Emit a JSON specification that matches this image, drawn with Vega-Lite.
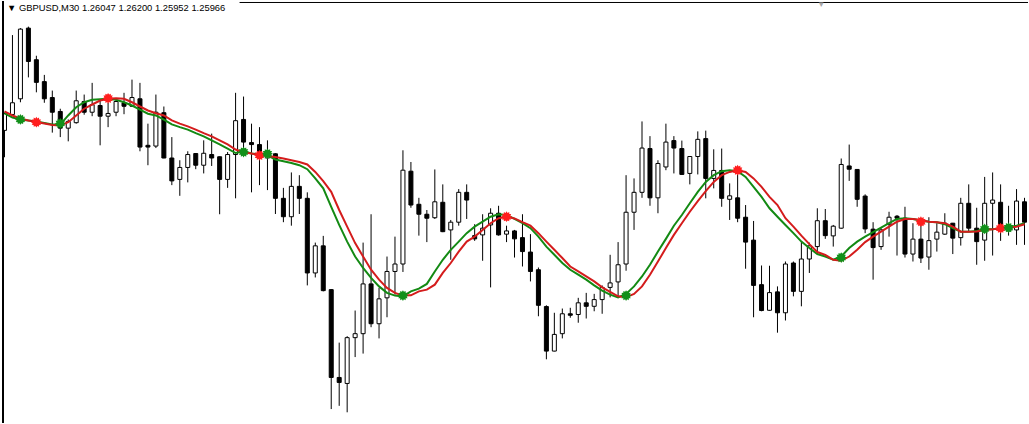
{
"$schema": "https://vega.github.io/schema/vega-lite/v6.json",
"width": 1029, "height": 424,
"autosize": {"type": "fit", "contains": "padding"},
"padding": 0,
"background": "#ffffff",
"config": {"view": {"stroke": null}, "scale": {"continuousPadding": 0}},
"title": {"text": "▼  GBPUSD,M30  1.26047 1.26200 1.25952 1.25966", "anchor": "start", "frame": "group", "orient": "top", "offset": -13, "font": "Liberation Sans", "fontSize": 9.4, "fontWeight": "normal", "color": "#000000", "dx": 4},
"datasets": {
"c": [
{"i":0,"o":1.26330,"h":1.26402,"l":1.26222,"c":1.26398,"g":1.26398,"r":1.26406},
{"i":1,"o":1.26394,"h":1.26713,"l":1.26392,"c":1.26441,"g":1.26382,"r":1.26390},
{"i":2,"o":1.26457,"h":1.26741,"l":1.26443,"c":1.26737,"g":1.26374,"r":1.26378},
{"i":3,"o":1.26741,"h":1.26747,"l":1.26543,"c":1.26607,"g":1.26370,"r":1.26370},
{"i":4,"o":1.26614,"h":1.26630,"l":1.26483,"c":1.26523,"g":1.26366,"r":1.26364},
{"i":5,"o":1.26526,"h":1.26553,"l":1.26441,"c":1.26457,"g":1.26360,"r":1.26358},
{"i":6,"o":1.26462,"h":1.26490,"l":1.26321,"c":1.26403,"g":1.26354,"r":1.26352},
{"i":7,"o":1.26406,"h":1.26417,"l":1.26303,"c":1.26339,"g":1.26354,"r":1.26350},
{"i":8,"o":1.26339,"h":1.26374,"l":1.26286,"c":1.26366,"g":1.26390,"r":1.26363},
{"i":9,"o":1.26361,"h":1.26490,"l":1.26357,"c":1.26449,"g":1.26423,"r":1.26390},
{"i":10,"o":1.26446,"h":1.26474,"l":1.26393,"c":1.26403,"g":1.26443,"r":1.26417},
{"i":11,"o":1.26403,"h":1.26521,"l":1.26387,"c":1.26433,"g":1.26453,"r":1.26434},
{"i":12,"o":1.26430,"h":1.26450,"l":1.26270,"c":1.26387,"g":1.26455,"r":1.26450},
{"i":13,"o":1.26387,"h":1.26441,"l":1.26343,"c":1.26398,"g":1.26457,"r":1.26457},
{"i":14,"o":1.26403,"h":1.26457,"l":1.26387,"c":1.26446,"g":1.26453,"r":1.26459},
{"i":15,"o":1.26441,"h":1.26481,"l":1.26395,"c":1.26427,"g":1.26443,"r":1.26457},
{"i":16,"o":1.26427,"h":1.26534,"l":1.26424,"c":1.26462,"g":1.26430,"r":1.26443},
{"i":17,"o":1.26457,"h":1.26521,"l":1.26246,"c":1.26263,"g":1.26413,"r":1.26426},
{"i":18,"o":1.26270,"h":1.26357,"l":1.26190,"c":1.26263,"g":1.26397,"r":1.26410},
{"i":19,"o":1.26267,"h":1.26474,"l":1.26259,"c":1.26403,"g":1.26390,"r":1.26399},
{"i":20,"o":1.26401,"h":1.26426,"l":1.26218,"c":1.26219,"g":1.26373,"r":1.26390},
{"i":21,"o":1.26219,"h":1.26303,"l":1.26110,"c":1.26127,"g":1.26354,"r":1.26370},
{"i":22,"o":1.26133,"h":1.26210,"l":1.26067,"c":1.26181,"g":1.26343,"r":1.26357},
{"i":23,"o":1.26181,"h":1.26246,"l":1.26121,"c":1.26233,"g":1.26333,"r":1.26346},
{"i":24,"o":1.26237,"h":1.26238,"l":1.26174,"c":1.26190,"g":1.26319,"r":1.26333},
{"i":25,"o":1.26190,"h":1.26290,"l":1.26157,"c":1.26238,"g":1.26306,"r":1.26319},
{"i":26,"o":1.26233,"h":1.26317,"l":1.26187,"c":1.26219,"g":1.26290,"r":1.26306},
{"i":27,"o":1.26224,"h":1.26225,"l":1.25993,"c":1.26133,"g":1.26274,"r":1.26290},
{"i":28,"o":1.26133,"h":1.26243,"l":1.26099,"c":1.26233,"g":1.26257,"r":1.26274},
{"i":29,"o":1.26233,"h":1.26481,"l":1.26057,"c":1.26369,"g":1.26239,"r":1.26253},
{"i":30,"o":1.26374,"h":1.26466,"l":1.26230,"c":1.26283,"g":1.26246,"r":1.26242},
{"i":31,"o":1.26281,"h":1.26357,"l":1.26081,"c":1.26273,"g":1.26237,"r":1.26237},
{"i":32,"o":1.26273,"h":1.26343,"l":1.26110,"c":1.26223,"g":1.26234,"r":1.26230},
{"i":33,"o":1.26219,"h":1.26290,"l":1.26090,"c":1.26237,"g":1.26230,"r":1.26227},
{"i":34,"o":1.26236,"h":1.26238,"l":1.25994,"c":1.26057,"g":1.26213,"r":1.26223},
{"i":35,"o":1.26057,"h":1.26099,"l":1.25961,"c":1.25983,"g":1.26206,"r":1.26217},
{"i":36,"o":1.25983,"h":1.26161,"l":1.25947,"c":1.26105,"g":1.26199,"r":1.26210},
{"i":37,"o":1.26105,"h":1.26150,"l":1.25994,"c":1.26057,"g":1.26190,"r":1.26203},
{"i":38,"o":1.26057,"h":1.26081,"l":1.25707,"c":1.25757,"g":1.26174,"r":1.26193},
{"i":39,"o":1.25757,"h":1.25879,"l":1.25739,"c":1.25866,"g":1.26137,"r":1.26163},
{"i":40,"o":1.25866,"h":1.25906,"l":1.25683,"c":1.25686,"g":1.26097,"r":1.26126},
{"i":41,"o":1.25690,"h":1.25692,"l":1.25210,"c":1.25337,"g":1.26023,"r":1.26083},
{"i":42,"o":1.25337,"h":1.25477,"l":1.25223,"c":1.25317,"g":1.25950,"r":1.26010},
{"i":43,"o":1.25313,"h":1.25503,"l":1.25197,"c":1.25497,"g":1.25883,"r":1.25943},
{"i":44,"o":1.25497,"h":1.25606,"l":1.25419,"c":1.25513,"g":1.25823,"r":1.25877},
{"i":45,"o":1.25513,"h":1.25879,"l":1.25433,"c":1.25713,"g":1.25777,"r":1.25823},
{"i":46,"o":1.25713,"h":1.25993,"l":1.25539,"c":1.25553,"g":1.25737,"r":1.25770},
{"i":47,"o":1.25553,"h":1.25697,"l":1.25494,"c":1.25653,"g":1.25703,"r":1.25730},
{"i":48,"o":1.25657,"h":1.25823,"l":1.25579,"c":1.25763,"g":1.25677,"r":1.25697},
{"i":49,"o":1.25763,"h":1.25903,"l":1.25670,"c":1.25793,"g":1.25666,"r":1.25677},
{"i":50,"o":1.25793,"h":1.26250,"l":1.25761,"c":1.26170,"g":1.25663,"r":1.25666},
{"i":51,"o":1.26166,"h":1.26203,"l":1.26019,"c":1.26030,"g":1.25683,"r":1.25667},
{"i":52,"o":1.26033,"h":1.26059,"l":1.25907,"c":1.25993,"g":1.25694,"r":1.25683},
{"i":53,"o":1.25993,"h":1.26010,"l":1.25881,"c":1.25977,"g":1.25713,"r":1.25690},
{"i":54,"o":1.25979,"h":1.26173,"l":1.25974,"c":1.26043,"g":1.25763,"r":1.25710},
{"i":55,"o":1.26041,"h":1.26113,"l":1.25921,"c":1.25923,"g":1.25810,"r":1.25757},
{"i":56,"o":1.25930,"h":1.25970,"l":1.25810,"c":1.25961,"g":1.25850,"r":1.25797},
{"i":57,"o":1.25961,"h":1.26094,"l":1.25947,"c":1.26081,"g":1.25883,"r":1.25843},
{"i":58,"o":1.26081,"h":1.26113,"l":1.25974,"c":1.26050,"g":1.25917,"r":1.25883},
{"i":59,"o":1.25907,"h":1.25953,"l":1.25886,"c":1.25894,"g":1.25943,"r":1.25903},
{"i":60,"o":1.25910,"h":1.25993,"l":1.25806,"c":1.25937,"g":1.25963,"r":1.25930},
{"i":61,"o":1.25950,"h":1.26017,"l":1.25699,"c":1.25997,"g":1.25983,"r":1.25957},
{"i":62,"o":1.25997,"h":1.26027,"l":1.25907,"c":1.25910,"g":1.25993,"r":1.25977},
{"i":63,"o":1.25913,"h":1.25947,"l":1.25881,"c":1.25926,"g":1.25990,"r":1.25983},
{"i":64,"o":1.25926,"h":1.25930,"l":1.25819,"c":1.25894,"g":1.25974,"r":1.25976},
{"i":65,"o":1.25899,"h":1.25993,"l":1.25783,"c":1.25843,"g":1.25957,"r":1.25961},
{"i":66,"o":1.25841,"h":1.25913,"l":1.25723,"c":1.25763,"g":1.25937,"r":1.25947},
{"i":67,"o":1.25770,"h":1.25779,"l":1.25583,"c":1.25627,"g":1.25903,"r":1.25917},
{"i":68,"o":1.25622,"h":1.25627,"l":1.25410,"c":1.25443,"g":1.25863,"r":1.25883},
{"i":69,"o":1.25443,"h":1.25597,"l":1.25442,"c":1.25510,"g":1.25830,"r":1.25850},
{"i":70,"o":1.25513,"h":1.25614,"l":1.25494,"c":1.25593,"g":1.25797,"r":1.25817},
{"i":71,"o":1.25593,"h":1.25617,"l":1.25577,"c":1.25587,"g":1.25770,"r":1.25783},
{"i":72,"o":1.25590,"h":1.25657,"l":1.25557,"c":1.25637,"g":1.25750,"r":1.25763},
{"i":73,"o":1.25637,"h":1.25677,"l":1.25574,"c":1.25623,"g":1.25730,"r":1.25743},
{"i":74,"o":1.25623,"h":1.25673,"l":1.25603,"c":1.25650,"g":1.25707,"r":1.25723},
{"i":75,"o":1.25650,"h":1.25707,"l":1.25593,"c":1.25699,"g":1.25686,"r":1.25699},
{"i":76,"o":1.25699,"h":1.25830,"l":1.25659,"c":1.25717,"g":1.25670,"r":1.25681},
{"i":77,"o":1.25721,"h":1.25881,"l":1.25659,"c":1.25790,"g":1.25659,"r":1.25663},
{"i":78,"o":1.25793,"h":1.26150,"l":1.25766,"c":1.26001,"g":1.25673,"r":1.25659},
{"i":79,"o":1.26001,"h":1.26137,"l":1.25930,"c":1.26081,"g":1.25703,"r":1.25673},
{"i":80,"o":1.26081,"h":1.26366,"l":1.26059,"c":1.26259,"g":1.25743,"r":1.25703},
{"i":81,"o":1.26257,"h":1.26307,"l":1.26027,"c":1.26059,"g":1.25790,"r":1.25750},
{"i":82,"o":1.26059,"h":1.26210,"l":1.25997,"c":1.26197,"g":1.25843,"r":1.25803},
{"i":83,"o":1.26183,"h":1.26357,"l":1.26170,"c":1.26283,"g":1.25894,"r":1.25857},
{"i":84,"o":1.26289,"h":1.26307,"l":1.26157,"c":1.26259,"g":1.25947,"r":1.25910},
{"i":85,"o":1.26257,"h":1.26289,"l":1.26151,"c":1.26153,"g":1.25990,"r":1.25957},
{"i":86,"o":1.26157,"h":1.26226,"l":1.26113,"c":1.26225,"g":1.26037,"r":1.26003},
{"i":87,"o":1.26225,"h":1.26326,"l":1.26153,"c":1.26294,"g":1.26083,"r":1.26046},
{"i":88,"o":1.26297,"h":1.26329,"l":1.26057,"c":1.26137,"g":1.26123,"r":1.26086},
{"i":89,"o":1.26137,"h":1.26254,"l":1.26097,"c":1.26169,"g":1.26150,"r":1.26123},
{"i":90,"o":1.26169,"h":1.26257,"l":1.26023,"c":1.26057,"g":1.26166,"r":1.26150},
{"i":91,"o":1.26053,"h":1.26117,"l":1.25970,"c":1.26067,"g":1.26170,"r":1.26163},
{"i":92,"o":1.26059,"h":1.26179,"l":1.25961,"c":1.25977,"g":1.26166,"r":1.26170},
{"i":93,"o":1.25981,"h":1.26030,"l":1.25774,"c":1.25881,"g":1.26143,"r":1.26163},
{"i":94,"o":1.25889,"h":1.25966,"l":1.25579,"c":1.25707,"g":1.26103,"r":1.26137},
{"i":95,"o":1.25710,"h":1.25787,"l":1.25603,"c":1.25606,"g":1.26063,"r":1.26103},
{"i":96,"o":1.25607,"h":1.25786,"l":1.25605,"c":1.25678,"g":1.26017,"r":1.26063},
{"i":97,"o":1.25681,"h":1.25703,"l":1.25517,"c":1.25597,"g":1.25983,"r":1.26030},
{"i":98,"o":1.25597,"h":1.25803,"l":1.25566,"c":1.25793,"g":1.25950,"r":1.25977},
{"i":99,"o":1.25797,"h":1.25803,"l":1.25663,"c":1.25683,"g":1.25917,"r":1.25943},
{"i":100,"o":1.25683,"h":1.25883,"l":1.25623,"c":1.25813,"g":1.25883,"r":1.25907},
{"i":101,"o":1.25813,"h":1.25879,"l":1.25757,"c":1.25866,"g":1.25857,"r":1.25873},
{"i":102,"o":1.25863,"h":1.26017,"l":1.25837,"c":1.25967,"g":1.25833,"r":1.25841},
{"i":103,"o":1.25967,"h":1.26014,"l":1.25894,"c":1.25907,"g":1.25823,"r":1.25830},
{"i":104,"o":1.25906,"h":1.25950,"l":1.25863,"c":1.25945,"g":1.25810,"r":1.25810},
{"i":105,"o":1.25937,"h":1.26217,"l":1.25935,"c":1.26193,"g":1.25823,"r":1.25806},
{"i":106,"o":1.26187,"h":1.26273,"l":1.26127,"c":1.26174,"g":1.25857,"r":1.25823},
{"i":107,"o":1.26173,"h":1.26174,"l":1.26023,"c":1.26053,"g":1.25883,"r":1.25850},
{"i":108,"o":1.26066,"h":1.26073,"l":1.25917,"c":1.25934,"g":1.25903,"r":1.25881},
{"i":109,"o":1.25933,"h":1.25961,"l":1.25730,"c":1.25859,"g":1.25921,"r":1.25903},
{"i":110,"o":1.25863,"h":1.25937,"l":1.25850,"c":1.25930,"g":1.25939,"r":1.25923},
{"i":111,"o":1.25953,"h":1.26003,"l":1.25903,"c":1.25981,"g":1.25957,"r":1.25943},
{"i":112,"o":1.25985,"h":1.25990,"l":1.25827,"c":1.25977,"g":1.25974,"r":1.25963},
{"i":113,"o":1.25977,"h":1.26023,"l":1.25819,"c":1.25833,"g":1.25977,"r":1.25974},
{"i":114,"o":1.25833,"h":1.25957,"l":1.25803,"c":1.25893,"g":1.25974,"r":1.25974},
{"i":115,"o":1.25893,"h":1.25974,"l":1.25797,"c":1.25817,"g":1.25968,"r":1.25970},
{"i":116,"o":1.25821,"h":1.25981,"l":1.25770,"c":1.25887,"g":1.25963,"r":1.25963},
{"i":117,"o":1.25893,"h":1.25957,"l":1.25843,"c":1.25921,"g":1.25961,"r":1.25961},
{"i":118,"o":1.25913,"h":1.25997,"l":1.25910,"c":1.25957,"g":1.25953,"r":1.25957},
{"i":119,"o":1.25957,"h":1.25958,"l":1.25833,"c":1.25897,"g":1.25937,"r":1.25943},
{"i":120,"o":1.25899,"h":1.26059,"l":1.25867,"c":1.26037,"g":1.25923,"r":1.25923},
{"i":121,"o":1.26037,"h":1.26113,"l":1.25923,"c":1.25937,"g":1.25923,"r":1.25923},
{"i":122,"o":1.25937,"h":1.26019,"l":1.25790,"c":1.25883,"g":1.25926,"r":1.25924},
{"i":123,"o":1.25889,"h":1.26143,"l":1.25806,"c":1.26037,"g":1.25934,"r":1.25930},
{"i":124,"o":1.26037,"h":1.26161,"l":1.25827,"c":1.26050,"g":1.25933,"r":1.25933},
{"i":125,"o":1.26041,"h":1.26113,"l":1.25886,"c":1.25946,"g":1.25937,"r":1.25937},
{"i":126,"o":1.25946,"h":1.26027,"l":1.25907,"c":1.25926,"g":1.25942,"r":1.25939},
{"i":127,"o":1.25930,"h":1.26094,"l":1.25870,"c":1.26046,"g":1.25947,"r":1.25943},
{"i":128,"o":1.26043,"h":1.26059,"l":1.25870,"c":1.25961,"g":1.25957,"r":1.25953}
],
"s": [
{"i":2,"p":1.26374,"t":"up"},
{"i":4,"p":1.26363,"t":"down"},
{"i":7,"p":1.26358,"t":"up"},
{"i":13,"p":1.26459,"t":"down"},
{"i":30,"p":1.26243,"t":"up"},
{"i":32,"p":1.26230,"t":"down"},
{"i":33,"p":1.26236,"t":"up"},
{"i":50,"p":1.25666,"t":"up"},
{"i":63,"p":1.25983,"t":"down"},
{"i":78,"p":1.25666,"t":"up"},
{"i":92,"p":1.26170,"t":"down"},
{"i":105,"p":1.25819,"t":"up"},
{"i":115,"p":1.25963,"t":"down"},
{"i":123,"p":1.25934,"t":"up"},
{"i":125,"p":1.25937,"t":"down"},
{"i":126,"p":1.25939,"t":"up"}
]
},
"layer": [
{"data": {"name": "c"}, "mark": {"type": "rule", "color": "#000000", "strokeWidth": 1},
 "encoding": {
  "x": {"field": "i", "type": "quantitative", "scale": {"domain": [-0.1875, 128.4375], "nice": false, "zero": false, "padding": 0}, "axis": null},
  "y": {"field": "h", "type": "quantitative", "scale": {"domain": [1.25154, 1.2685], "nice": false, "zero": false, "padding": 0}, "axis": null},
  "y2": {"field": "l"}}},
{"data": {"name": "c"}, "mark": {"type": "bar", "size": 4, "stroke": "#000000", "strokeWidth": 1},
 "encoding": {
  "x": {"field": "i", "type": "quantitative", "scale": {"domain": [-0.1875, 128.4375], "nice": false, "zero": false, "padding": 0}, "axis": null},
  "y": {"field": "o", "type": "quantitative", "scale": {"domain": [1.25154, 1.2685], "nice": false, "zero": false, "padding": 0}, "axis": null},
  "y2": {"field": "c"},
  "fill": {"condition": {"test": "datum.c >= datum.o", "value": "#ffffff"}, "value": "#000000"}}},
{"data": {"name": "c"}, "mark": {"type": "line", "color": "#138a13", "strokeWidth": 2},
 "encoding": {
  "x": {"field": "i", "type": "quantitative", "scale": {"domain": [-0.1875, 128.4375], "nice": false, "zero": false, "padding": 0}, "axis": null},
  "y": {"field": "g", "type": "quantitative", "scale": {"domain": [1.25154, 1.2685], "nice": false, "zero": false, "padding": 0}, "axis": null}}},
{"data": {"name": "c"}, "mark": {"type": "line", "color": "#d41c1c", "strokeWidth": 2},
 "encoding": {
  "x": {"field": "i", "type": "quantitative", "scale": {"domain": [-0.1875, 128.4375], "nice": false, "zero": false, "padding": 0}, "axis": null},
  "y": {"field": "r", "type": "quantitative", "scale": {"domain": [1.25154, 1.2685], "nice": false, "zero": false, "padding": 0}, "axis": null}}},
{"data": {"name": "s"}, "mark": {"type": "point", "shape": "M1,0L.696,.186L.866,.5L.509,.509L.5,.866L.186,.696L0,1L-.186,.696L-.5,.866L-.509,.509L-.866,.5L-.696,.186L-1,0L-.696,-.186L-.866,-.5L-.509,-.509L-.5,-.866L-.186,-.696L0,-1L.186,-.696L.5,-.866L.509,-.509L.866,-.5L.696,-.186Z", "filled": true, "size": 115, "strokeWidth": 0, "opacity": 1},
 "encoding": {
  "x": {"field": "i", "type": "quantitative", "scale": {"domain": [-0.1875, 128.4375], "nice": false, "zero": false, "padding": 0}, "axis": null},
  "y": {"field": "p", "type": "quantitative", "scale": {"domain": [1.25154, 1.2685], "nice": false, "zero": false, "padding": 0}, "axis": null},
  "color": {"field": "t", "type": "nominal", "scale": {"domain": ["up", "down"], "range": ["#12901a", "#ff1e1e"]}, "legend": null}}},
{"data": {"values": [{}]}, "mark": {"type": "rule", "color": "#000000", "strokeWidth": 2},
 "encoding": {"x": {"datum": -0.1875, "type": "quantitative"}}},
{"data": {"values": [{}]}, "mark": {"type": "rule", "color": "#000000", "strokeWidth": 1},
 "encoding": {"y": {"datum": 1.26844, "type": "quantitative"}, "x": {"datum": 29.5, "type": "quantitative"}, "x2": {"datum": 128.4375}}},
{"data": {"values": [{}]}, "mark": {"type": "text", "text": "▼", "fontSize": 8, "color": "#a8a8a8", "baseline": "middle", "align": "center"},
 "encoding": {"x": {"datum": 102.5, "type": "quantitative"}, "y": {"datum": 1.26834, "type": "quantitative"}}}
]
}
